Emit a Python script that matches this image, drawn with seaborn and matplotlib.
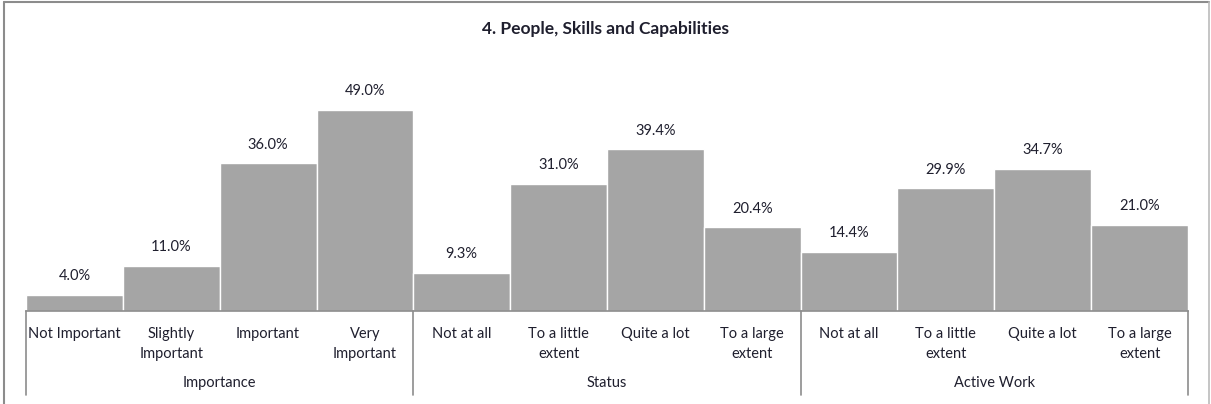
import matplotlib
matplotlib.use("Agg")
import matplotlib.pyplot as plt
import seaborn as sns
import pandas as pd
from matplotlib.lines import Line2D
from matplotlib.transforms import blended_transform_factory

# ---- data ----
groups = ["Importance", "Status", "Active Work"]
importance_labels = ["Not Important", "Slightly\nImportant", "Important", "Very\nImportant"]
status_labels = ["Not at all", "To a little\nextent", "Quite a lot", "To a large\nextent"]
active_labels = ["Not at all", "To a little\nextent", "Quite a lot", "To a large\nextent"]
importance_values = [4.0, 11.0, 36.0, 49.0]
status_values = [9.3, 31.0, 39.4, 20.4]
active_values = [14.4, 29.9, 34.7, 21.0]
title = "4. People, Skills and Capabilities"

sns.set_theme(style="white")
plt.rcParams["font.family"] = ["Lato", "DejaVu Sans"]

labels_all = importance_labels + status_labels + active_labels
values_all = importance_values + status_values + active_values
group_all = ([groups[0]] * len(importance_labels) + [groups[1]] * len(status_labels)
             + [groups[2]] * len(active_labels))
keys = [f"{g}|{l}" for g, l in zip(group_all, labels_all)]
df = pd.DataFrame({"key": keys, "value": values_all, "label": labels_all, "group": group_all})

W, H = 1211, 404
fig = plt.figure(figsize=(W / 100, H / 100), dpi=100)
ax_left, ax_right, ax_bottom, ax_top = 26, 1188, 311, 65
ax = fig.add_axes([ax_left / W, (H - ax_bottom) / H, (ax_right - ax_left) / W, (ax_bottom - ax_top) / H])

bar_color = "#A5A5A5"
text_color = "#1F1F2E"
fs = 10.5
sns.barplot(data=df, x="key", y="value", order=keys, color=bar_color, width=1.0,
            saturation=1, edgecolor="white", linewidth=1.0, ax=ax)

ax.set_ylim(0, 60)
ax.set_xlim(-0.5, len(keys) - 0.5)
ax.set_xlabel("")
ax.set_ylabel("")
ax.set_yticks([])
for s in ["left", "right", "top"]:
    ax.spines[s].set_visible(False)
ax.spines["bottom"].set_color("#8C8C8C")
ax.spines["bottom"].set_linewidth(1.2)

ax.set_xticks(range(len(keys)))
ax.set_xticklabels(labels_all, fontsize=fs, color=text_color, linespacing=1.55)
ax.tick_params(axis="x", length=0, pad=11.5)

# value labels
for i, v in enumerate(values_all):
    ax.annotate(f"{v:.1f}%", xy=(i, v), xytext=(0, 13.5), textcoords="offset points",
                ha="center", va="center", fontsize=fs, color=text_color)

# group labels and separators
trans = blended_transform_factory(ax.transData, ax.transAxes)
axh = ax_bottom - ax_top
sizes = [len(importance_labels), len(status_labels), len(active_labels)]
start = 0
bounds = [-0.5]
for g, n in zip(groups, sizes):
    center = start + (n - 1) / 2
    ax.text(center, -72 / axh, g, transform=trans, ha="center", va="center",
            fontsize=fs, color=text_color)
    start += n
    bounds.append(start - 0.5)
for b in bounds:
    ax.add_line(Line2D([b, b], [0, -84 / axh], transform=trans, color="#8C8C8C",
                       linewidth=1.2, clip_on=False))

fig.text(606 / W, 1 - 29 / H, title, ha="center", va="center", fontsize=12.5,
         fontweight="bold", color=text_color)

# outer frame (left, top, right)
fc = "#8C8C8C"
fig.add_artist(Line2D([4 / W, 4 / W], [0, 1 - 2 / H], transform=fig.transFigure, color=fc, linewidth=1.5))
fig.add_artist(Line2D([4 / W, 1209 / W], [1 - 2 / H, 1 - 2 / H], transform=fig.transFigure, color=fc, linewidth=1.5))
fig.add_artist(Line2D([1209 / W, 1209 / W], [0, 1 - 2 / H], transform=fig.transFigure, color="#BBBBBB", linewidth=1.2))

fig.savefig("out.png", dpi=100, facecolor="white")
